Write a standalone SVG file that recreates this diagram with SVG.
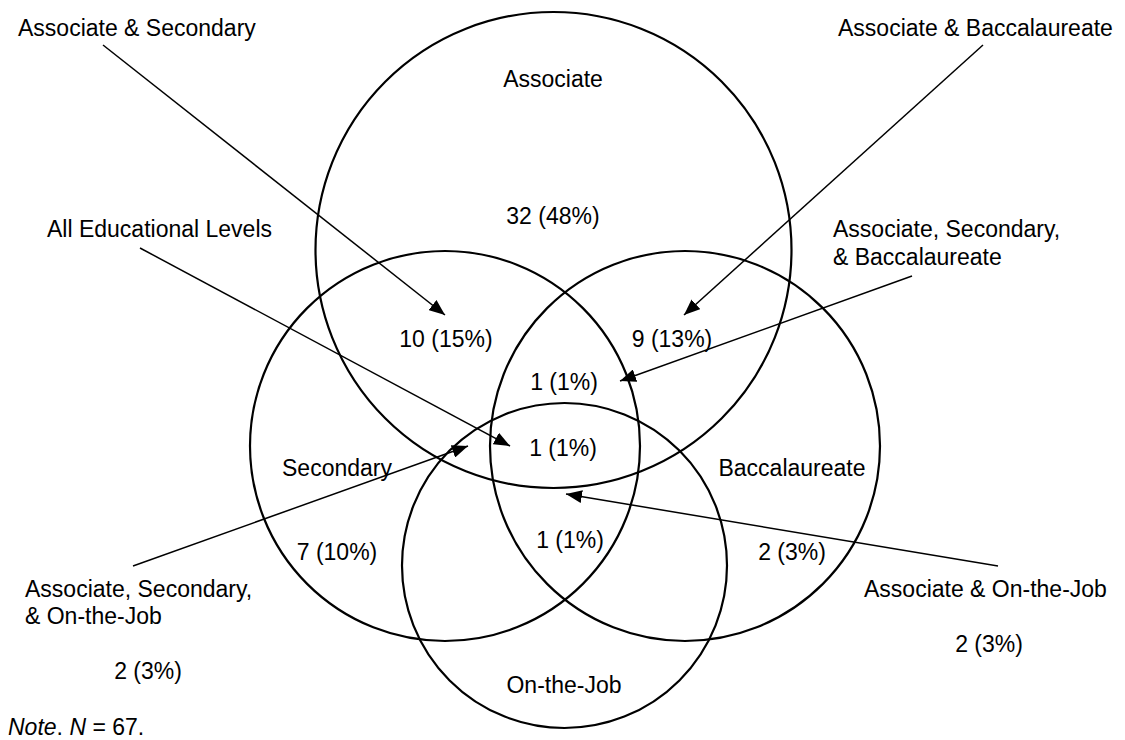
<svg xmlns="http://www.w3.org/2000/svg" width="1125" height="740" viewBox="0 0 1125 740">
<style>
text{font-family:"Liberation Sans",Arial,sans-serif;font-size:23px;fill:#000}
.c{text-anchor:middle}
circle{fill:none;stroke:#000;stroke-width:2.2}
.conn line{stroke:#000;stroke-width:1.5;marker-end:url(#ah)}
</style>
<defs>
<marker id="ah" markerUnits="userSpaceOnUse" markerWidth="17" markerHeight="13" refX="16" refY="6.5" orient="auto">
<path d="M0,0 L16,6.5 L0,13 z" fill="#000"/>
</marker>
</defs>
<rect width="1125" height="740" fill="#fff"/>
<g id="associate">
<circle cx="553.5" cy="250" r="238"/>
<text class="c" x="553" y="87">Associate</text>
<text class="c" x="553" y="224">32 (48%)</text>
</g>
<g id="secondary">
<circle cx="445" cy="446" r="195"/>
<text class="c" x="337" y="476">Secondary</text>
<text class="c" x="337" y="560">7 (10%)</text>
</g>
<g id="baccalaureate">
<circle cx="685" cy="446" r="195"/>
<text class="c" x="792" y="476">Baccalaureate</text>
<text class="c" x="792" y="560">2 (3%)</text>
</g>
<g id="onthejob">
<circle cx="564.5" cy="565.5" r="162.5"/>
<text class="c" x="564" y="693">On-the-Job</text>
</g>
<g id="regions">
<text class="c" x="446" y="347">10 (15%)</text>
<text class="c" x="672" y="347">9 (13%)</text>
<text class="c" x="564" y="390">1 (1%)</text>
<text class="c" x="563" y="456">1 (1%)</text>
<text class="c" x="570" y="548">1 (1%)</text>
</g>
<g id="labels">
<text x="18" y="36">Associate &amp; Secondary</text>
<text x="838" y="36">Associate &amp; Baccalaureate</text>
<text x="47" y="237">All Educational Levels</text>
<text x="833" y="237">Associate, Secondary,</text>
<text x="833" y="265">&amp; Baccalaureate</text>
<text x="25" y="597">Associate, Secondary,</text>
<text x="25" y="624">&amp; On-the-Job</text>
<text class="c" x="148" y="679">2 (3%)</text>
<text x="864" y="597">Associate &amp; On-the-Job</text>
<text class="c" x="989" y="652">2 (3%)</text>
<text x="8" y="735"><tspan font-style="italic">Note</tspan>. <tspan font-style="italic">N</tspan> = 67.</text>
</g>
<g id="connectors" class="conn">
<line x1="103" y1="45" x2="445" y2="315"/>
<line x1="983" y1="45" x2="684" y2="315"/>
<line x1="140" y1="248" x2="510" y2="446"/>
<line x1="912" y1="276" x2="620" y2="381"/>
<line x1="133" y1="566" x2="468" y2="446"/>
<line x1="998" y1="566" x2="566" y2="494"/>
</g>
</svg>
